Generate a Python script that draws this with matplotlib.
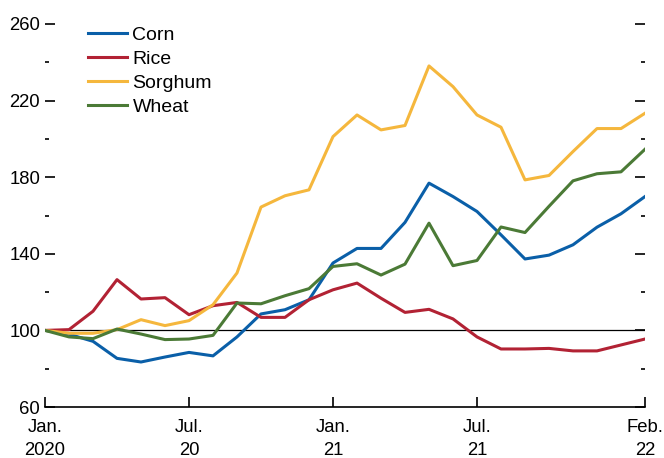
import numpy as np
import matplotlib
matplotlib.use("Agg")
import matplotlib.pyplot as plt
from matplotlib.ticker import FixedLocator

# monthly index, Jan 2020 = 100
months = np.arange(26)   # Jan 2020 .. Feb 2022

corn = [100, 98, 94.3, 85.4, 83.5, 86.1, 88.5, 86.7, 96.6, 108.6, 110.8, 116,
        135.2, 142.8, 142.8, 156.4, 176.9, 169.9, 162.1, 149.9, 137.3, 139.3,
        144.7, 153.9, 160.9, 169.9]
rice = [100, 100.4, 110, 126.5, 116.4, 117.1, 108.2, 112.9, 114.6, 106.8, 106.8, 116,
        121.2, 124.7, 116.8, 109.4, 111, 106, 96.6, 90.3, 90.3, 90.6,
        89.3, 89.3, 92.4, 95.5]
sorghum = [100, 98.5, 98.5, 100.4, 105.6, 102.5, 105.1, 113.4, 130, 164.4, 170.3, 173.4,
           201.2, 212.5, 204.7, 207, 238.1, 227.3, 212.5, 206.1, 178.6, 180.9,
           193.4, 205.4, 205.4, 213.4]
wheat = [100, 96.6, 95.7, 100.7, 98.1, 95.2, 95.5, 97.4, 114.3, 113.9, 118.1, 121.8,
         133.4, 134.8, 128.9, 134.6, 156, 133.8, 136.5, 154, 151.1, 164.8,
         178.1, 181.8, 182.8, 194.6]

y_major = [60, 100, 140, 180, 220, 260]
y_minor = [80, 120, 160, 200, 240]
tick_pos = [0, 6, 12, 18, 25]
tick_labels = ["Jan.\n2020", "Jul.\n20", "Jan.\n21", "Jul.\n21", "Feb.\n22"]

plt.rcParams['font.family'] = ['Liberation Sans', 'DejaVu Sans']

fig = plt.figure(figsize=(6.64, 4.58), dpi=100)
ax = fig.add_axes([45/664, 1 - 407/458, 600/664, 383/458])

ax.axhline(100, color="black", linewidth=0.9, zorder=1)

lw = 2.2
ax.plot(months, corn, color="#0a5fa8", linewidth=lw, label="Corn")
ax.plot(months, rice, color="#b22234", linewidth=lw, label="Rice")
ax.plot(months, sorghum, color="#f5b73d", linewidth=lw, label="Sorghum")
ax.plot(months, wheat, color="#4b7a36", linewidth=lw, label="Wheat")

ax.set_xlim(0, 25)
ax.set_ylim(60, 260)

for s in ["top", "left", "right"]:
    ax.spines[s].set_visible(False)
ax.spines["bottom"].set_linewidth(1.2)

ax.yaxis.set_major_locator(FixedLocator(y_major))
ax.yaxis.set_minor_locator(FixedLocator(y_minor))
ax.tick_params(axis="y", which="both", direction="in", left=True, right=True,
               labelleft=True, labelright=False, width=1.2)
ax.tick_params(axis="y", which="major", length=7, labelsize=13.3, pad=3.5)
ax.tick_params(axis="y", which="minor", length=3)

ax.set_xticks(tick_pos)
ax.set_xticklabels(tick_labels, linespacing=1.5)
ax.tick_params(axis="x", direction="in", length=7, width=1.2, labelsize=13.3, pad=8.5)

ax.legend(loc="upper left", bbox_to_anchor=(0.055, 1.02), frameon=False,
          fontsize=14, handlelength=2.0, handletextpad=0.3, labelspacing=0.33,
          borderaxespad=0.1)

fig.savefig("out.png", dpi=100)
